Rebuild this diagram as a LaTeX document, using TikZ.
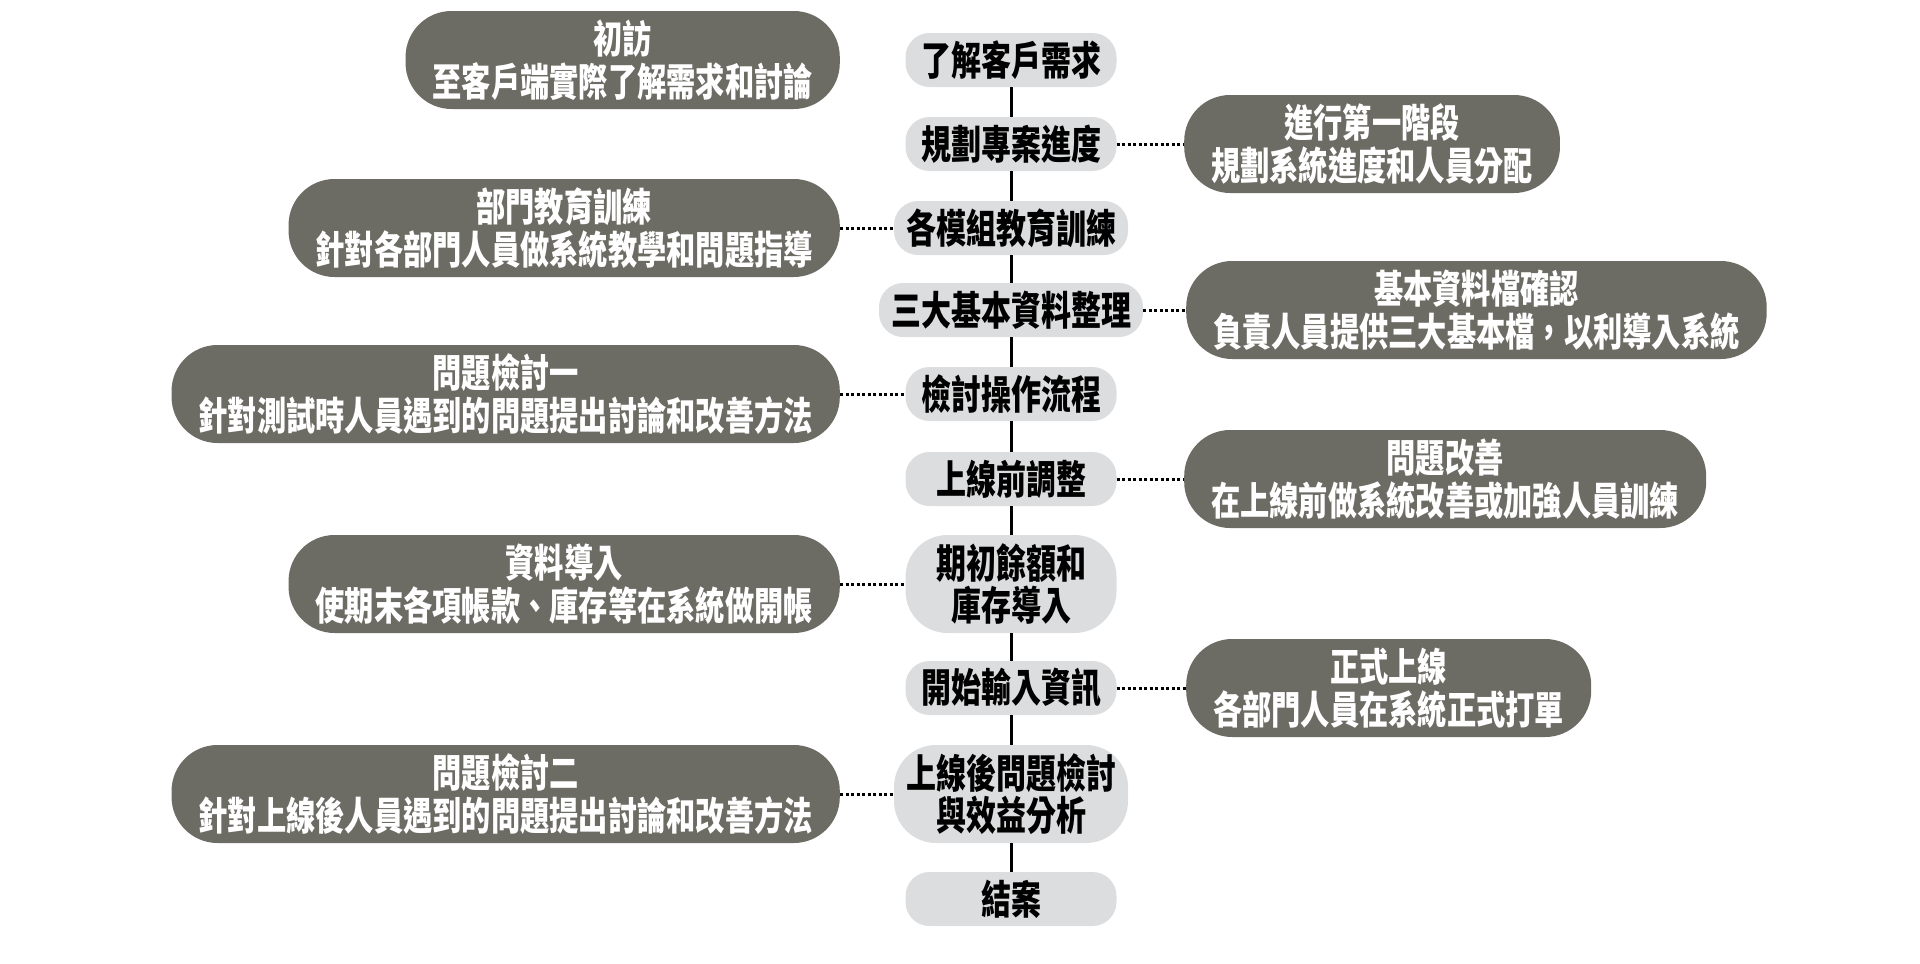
\documentclass[tikz,border=0pt]{standalone}
\usepackage{fontspec}
\newfontfamily\cjk[FakeStretch=0.75]{Noto Sans CJK TC}
\usetikzlibrary{positioning}
\definecolor{stepgray}{HTML}{DCDDDF}
\definecolor{notegray}{HTML}{6C6B64}
\newcommand\stepfont{\cjk\bfseries\fontsize{40}{42}\selectfont}
\newcommand\notefont{\cjk\bfseries\fontsize{39}{43}\selectfont}
\tikzset{
  spine/.style = {line width=3pt},
  dline/.style = {line width=3pt, dash pattern=on 3pt off 2.5pt},
  sbox/.style  = {fill=stepgray, rounded corners=24pt, minimum width=211pt,
                  minimum height=54pt, inner xsep=12pt, inner ysep=4pt,
                  align=center, font=\stepfont},
  sboxx/.style = {sbox, rounded corners=42pt, minimum height=98pt},
  nbox/.style  = {fill=notegray, text=white, rounded corners=46pt,
                  minimum height=98pt, inner xsep=27pt, align=center,
                  font=\notefont},
}

\begin{document}
\begin{tikzpicture}[x=1pt,y=-1pt]
  \useasboundingbox (0,0) rectangle (1920,964);
  % middle: the steps
  \node[sbox]  (s1)  at (1011,60)  {了解客戶需求};
  \node[sbox]  (s2)  at (1011,144) {規劃專案進度};
  \node[sbox]  (s3)  at (1011,228) {各模組教育訓練};
  \node[sbox]  (s4)  at (1011,310) {三大基本資料整理};
  \node[sbox]  (s5)  at (1011,394) {檢討操作流程};
  \node[sbox]  (s6)  at (1011,479) {上線前調整};
  \node[sboxx] (s7)  at (1011,584) {期初餘額和\\庫存導入};
  \node[sbox]  (s8)  at (1011,688) {開始輸入資訊};
  \node[sboxx] (s9)  at (1011,794) {上線後問題檢討\\與效益分析};
  \node[sbox]  (s10) at (1011,899) {結案};
  \draw[spine] (s1)--(s2) (s2)--(s3) (s3)--(s4) (s4)--(s5) (s5)--(s6)
               (s6)--(s7) (s7)--(s8) (s8)--(s9) (s9)--(s10);
  % left notes
  \node[nbox,anchor=east] (n1) at (840,60)  {初訪\\至客戶端實際了解需求和討論};
  \node[nbox,anchor=east] (n3) at (840,228) {部門教育訓練\\針對各部門人員做系統教學和問題指導};
  \node[nbox,anchor=east] (n5) at (840,394) {問題檢討一\\針對測試時人員遇到的問題提出討論和改善方法};
  \node[nbox,anchor=east] (n7) at (840,584) {資料導入\\使期末各項帳款、庫存等在系統做開帳};
  \node[nbox,anchor=east] (n9) at (840,794) {問題檢討二\\針對上線後人員遇到的問題提出討論和改善方法};
  % right notes
  \node[nbox,anchor=west] (n2) at (1184,144) {進行第一階段\\規劃系統進度和人員分配};
  \node[nbox,anchor=west] (n4) at (1186,310) {基本資料檔確認\\負責人員提供三大基本檔，以利導入系統};
  \node[nbox,anchor=west] (n6) at (1184,479) {問題改善\\在上線前做系統改善或加強人員訓練};
  \node[nbox,anchor=west] (n8) at (1186,688) {正式上線\\各部門人員在系統正式打單};
  \draw[dline] (n3)--(s3) (n5)--(s5) (n7)--(s7) (n9)--(s9);
  \draw[dline] (s2)--(n2) (s4)--(n4) (s6)--(n6) (s8)--(n8);
\end{tikzpicture}
\end{document}
